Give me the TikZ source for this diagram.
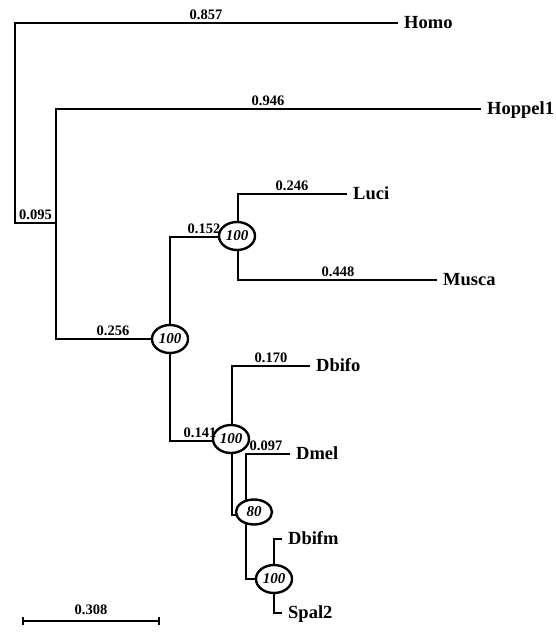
\documentclass[tikz,border=0pt]{standalone}
\usepackage{fontspec}
\setmainfont{Liberation Serif}
\usetikzlibrary{arrows.meta,shapes.geometric}

\begin{document}
\begin{tikzpicture}[x=1pt,y=-1pt,
  taxon/.style={anchor=west,inner xsep=6pt,inner ysep=0pt,text height=11.9pt,text depth=0pt,
    font=\fontsize{18.5}{20}\selectfont\bfseries},
  brlen/.style={anchor=base,inner sep=0pt,font=\fontsize{14.5}{16}\selectfont\bfseries},
  boot/.style={ellipse,draw,line width=2.4pt,fill=white,minimum width=36pt,minimum height=28pt,
    inner sep=0pt,font=\fontsize{15}{16}\selectfont\bfseries\itshape},
  heavy/.style={line width=2.4pt},
  light/.style={line width=2pt},
  fine/.style={line width=1.6pt}]

\useasboundingbox (0,0) rectangle (556,635);

% internal nodes
\coordinate (r) at (15,223);
\coordinate (n0) at (56,223);
\coordinate (n1) at (170,339);
\coordinate (n2) at (238,237);
\coordinate (n3) at (232,441);
\coordinate (n4) at (246,515);
\coordinate (n5) at (274,579);

% taxa
\node[taxon] (homo) at (398,23) {Homo};
\node[taxon] (hoppel) at (481,109) {Hoppel1};
\node[taxon] (luci) at (347,194) {Luci};
\node[taxon] (musca) at (437,280) {Musca};
\node[taxon] (dbifo) at (310,366) {Dbifo};
\node[taxon] (dmel) at (290,454) {Dmel};
\node[taxon] (dbifm) at (282,539) {Dbifm};
\node[taxon] (spal) at (282,613) {Spal2};

% branches
\draw[heavy] (homo.west) -| (r) -- (n0);
\draw[heavy] (hoppel.west) -| (n0) |- (n1);
\draw[light] (n1) |- (n2);
\draw[light] (luci.west) -| (n2) |- (musca.west);
\draw[light] (n1) |- (n3);
\draw[heavy] (dbifo.west) -| (n3) |- (n4);
\draw[fine] (dmel.west) -| (n4) |- (n5);
\draw[fine] (dbifm.west) -| (n5) |- (spal.west);

% bootstrap values
\node[boot] (b1) at (n1) {100};
\node[boot] (b2) at ([shift={(-1,-1)}]n2) {100};
\node[boot] (b3) at ([shift={(-1,-2)}]n3) {100};
\node[boot,minimum height=25pt] (b4) at ([shift={(8,-3)}]n4) {80};
\node[boot] (b5) at (n5) {100};

% branch lengths
\node[brlen] (l857) at (206,19.5) {0.857};
\node[brlen] (l946) at (268,105.5) {0.946};
\node[brlen] (l095) at (35.5,219.5) {0.095};
\node[brlen] (l246) at (292,190.5) {0.246};
\node[brlen] (l448) at (338,276.5) {0.448};
\node[brlen] (l152) at (204,233.5) {0.152};
\node[brlen] (l256) at (113,335.5) {0.256};
\node[brlen] (l170) at (271,362.5) {0.170};
\node[brlen] (l141) at (200,437.5) {0.141};
\node[brlen] (l097) at (266,450.5) {0.097};

% scale bar
\coordinate (s0) at (22,621);
\coordinate (s1) at (160,621);
\draw[heavy,{Bar[width=8pt]}-{Bar[width=8pt]}] (s0) -- (s1);
\node[brlen] (l308) at (91,614) {0.308};

\end{tikzpicture}
\end{document}
